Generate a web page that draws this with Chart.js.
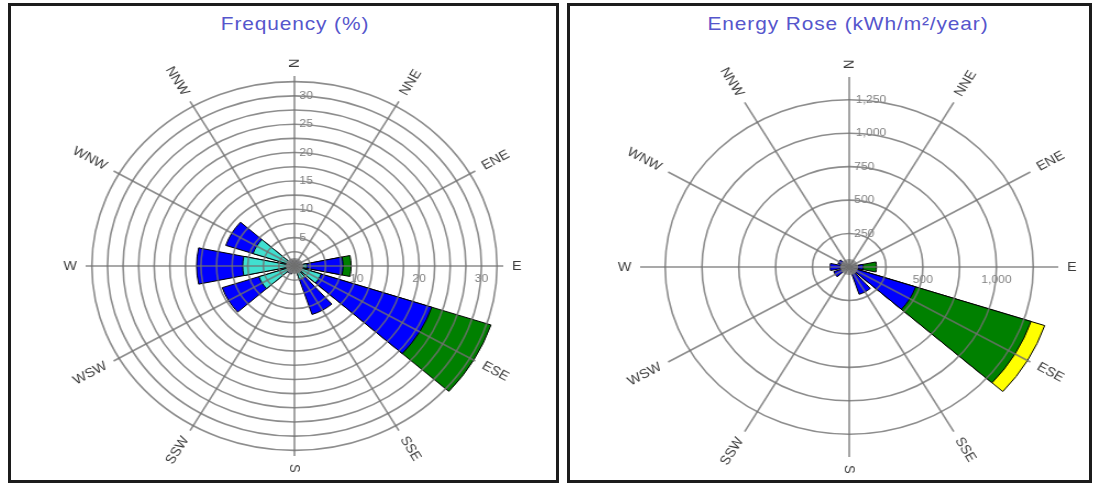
<!DOCTYPE html>
<html>
<head>
<meta charset="utf-8">
<script src="https://cdn.jsdelivr.net/npm/chart.js@4.4.1/dist/chart.umd.min.js"></script>
<style>
  body { margin: 0; background: #fff; width: 1094px; height: 483px; overflow: hidden; position: relative; font-family: Arial, "Liberation Sans", sans-serif; }
  .panel { position: absolute; top: 3px; height: 480px; border: 3px solid #1c1c1c; box-sizing: border-box; }
  .title { position: absolute; top: 14px; line-height: 20px; font-size: 19px; letter-spacing: 0.8px; color: #5656cc; white-space: nowrap; transform: translateX(-50%) scaleX(1.1); }
  canvas { position: absolute; }
</style>
</head>
<body>
<div class="panel" style="left:8px;width:551px"></div>
<div class="panel" style="left:567px;width:525px"></div>
<div class="title" style="left:295px">Frequency (%)</div>
<div class="title" style="left:848px">Energy Rose (kWh/m²/year)</div>
<!-- the original picture is stretched sideways, so the canvases are too -->
<canvas id="freq-rose" width="495" height="443" style="left:12px;top:40px;width:544px;height:443px"></canvas>
<canvas id="energy-rose" width="468" height="443" style="left:573px;top:40px;width:515px;height:443px"></canvas>
<script>
const directions = ['N', 'NNE', 'ENE', 'E', 'ESE', 'SSE', 'S', 'SSW', 'WSW', 'W', 'WNW', 'NNW'];

// frequency (%) per speed class
const freqCyan   = [0.6, 0.5, 0.6, 2.0, 4.5, 2.5, 0.6, 0.8, 6.0, 8.3, 7.0, 0.6];
const freqBlue   = [0.5, 0.5, 0.6, 5.8, 18.7, 6.5, 0.6, 0.7, 6.2, 7.4, 4.6, 0.6];
const freqGreen  = [0, 0, 0, 1.3, 10.0, 0, 0, 0, 0, 0, 0, 0];
const freqYellow = [0, 0, 0, 0, 0, 0, 0, 0, 0, 0, 0, 0];
const freqCalm = 1.4;
const freqTicks = [5, 10, 15, 20, 25, 30];
const freqEastTicks = [10, 20, 30];

// energy (kWh/m2/year) per speed class
const energyCyan   = [8, 5, 6, 15, 10, 10, 5, 6, 15, 20, 15, 6];
const energyBlue   = [15, 10, 12, 80, 465, 205, 15, 20, 95, 110, 65, 15];
const energyGreen  = [0, 0, 0, 90, 825, 0, 0, 0, 0, 0, 0, 0];
const energyYellow = [0, 0, 0, 0, 98, 0, 0, 0, 0, 0, 0, 0];
const energyCalm = 60;
const energyTicks = [250, 500, 750, 1000, 1250];
const energyEastTicks = [500, 1000];

const bandColors = ['#40e0d0', '#0000ff', '#008000', '#ffff00'];
const gridColor = 'rgba(112,112,112,0.8)';
const wedge = 23.5;          // degrees of each 30 degree sector that is filled
const gap = 30 - wedge;

Chart.defaults.font.family = 'Arial, "Liberation Sans", sans-serif';

const fmt = v => v.toLocaleString('en-US');

// N half, gap, NNE, gap, ... NNW, gap, N half
function spread(ring) {
  const out = [ring[0]];
  for (let i = 1; i < ring.length; i++) out.push(null, ring[i]);
  out.push(null, ring[0]);
  return out;
}
const lastIndex = 2 * directions.length;
const sectorAngle = c => (c.dataIndex === 0 || c.dataIndex === lastIndex) ? wedge / 2 : (c.dataIndex % 2 ? gap : wedge);

// running totals, so each class is drawn from the centre out with the smaller ones on top
function stack(bands) {
  let total = directions.map(() => 0);
  return bands.map(band => {
    total = total.map((t, i) => t + band[i]);
    return spread(total.map((t, i) => band[i] > 0 ? t : null));
  });
}

// direction names turned along their spokes, plus the tick labels on the E spoke
const roseLabels = {
  id: 'roseLabels',
  afterDraw(chart, args, opts) {
    const r = chart.scales.r;
    const ctx = chart.ctx;
    ctx.save();
    ctx.textAlign = 'center';
    ctx.textBaseline = 'middle';
    ctx.font = '13px Arial, "Liberation Sans", sans-serif';
    ctx.fillStyle = '#3c3c3c';
    directions.forEach((d, i) => {
      const a = r.getIndexAngle(i) - Math.PI / 2;
      const w = ctx.measureText(d).width;
      const p = r.getPointPosition(i, r.drawingArea + 8 + w / 2);
      ctx.save();
      ctx.translate(p.x, p.y);
      ctx.rotate(Math.cos(a) < -1e-6 ? a + Math.PI : a);
      ctx.fillText(d, 0, 0);
      ctx.restore();
    });
    ctx.font = '11px Arial, "Liberation Sans", sans-serif';
    ctx.fillStyle = '#808080';
    opts.eastTicks.forEach(v => {
      ctx.fillText(fmt(v), r.xCenter + r.getDistanceFromCenterForValue(v), r.yCenter + 13);
    });
    ctx.restore();
  }
};

function rose(id, bands, calm, max, step, tickList, eastTicks, padding) {
  const datasets = [{
    data: Array(lastIndex + 1).fill(calm),
    backgroundColor: '#8c8c8c',
    borderWidth: 0,
    angle: sectorAngle
  }];
  stack(bands).forEach((d, k) => datasets.push({
    data: d,
    backgroundColor: bandColors[k],
    borderColor: '#000',
    borderWidth: 1,
    angle: sectorAngle
  }));

  return new Chart(document.getElementById(id), {
    type: 'polarArea',
    data: { labels: directions, datasets },
    plugins: [roseLabels],
    options: {
      responsive: false,
      animation: false,
      events: [],
      layout: { padding },
      plugins: {
        legend: { display: false },
        tooltip: { enabled: false },
        roseLabels: { eastTicks }
      },
      scales: {
        r: {
          min: 0,
          max: max,
          startAngle: 0,
          ticks: {
            stepSize: step,
            includeBounds: false,   // spokes run a little past the last ring
            z: 2,
            color: '#808080',
            font: { size: 11 },
            backdropPadding: 0,
            showLabelBackdrop: false,
            callback: v => {
              if (!tickList.includes(v)) return '';
              const s = fmt(v);
              return ' '.repeat(2 * s.length + 3) + s;
            }
          },
          grid: { z: 1, circular: true, lineWidth: 1.6, color: gridColor },
          angleLines: { display: true, color: gridColor, lineWidth: 1.6 },
          pointLabels: { display: false }
        }
      }
    }
  });
}

rose('freq-rose', [freqCyan, freqBlue, freqGreen, freqYellow], freqCalm,
  33.5, 2.5, freqTicks, freqEastTicks, { left: 55, right: 36, top: 30, bottom: 21 });

rose('energy-rose', [energyCyan, energyBlue, energyGreen, energyYellow], energyCalm,
  1420, 250, energyTicks, energyEastTicks, { left: 52, right: 18, top: 31, bottom: 20 });
</script>
</body>
</html>
